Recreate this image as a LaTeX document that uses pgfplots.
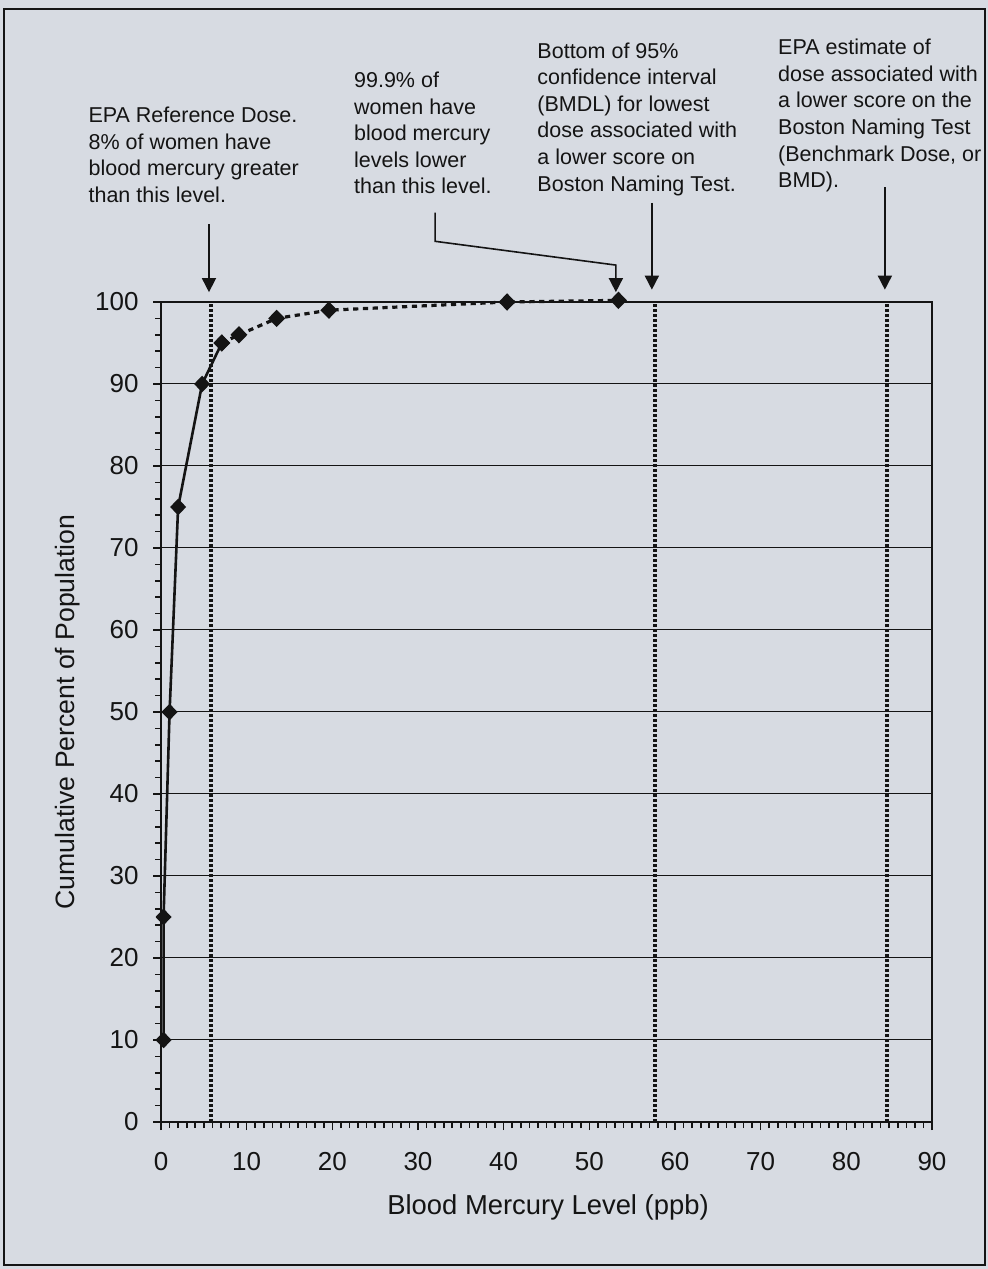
\documentclass[border=0pt]{standalone}
\usepackage{fontspec}
\setmainfont{Liberation Sans}
\usepackage{pgfplots}
\pgfplotsset{compat=1.18}
\usetikzlibrary{arrows.meta}
\definecolor{paper}{RGB}{215,219,226}
\definecolor{ink}{RGB}{20,20,20}

\begin{document}
\begin{tikzpicture}[x=1pt,y=1pt]
\useasboundingbox (0,0) rectangle (494,634.5);
\fill[paper] (0,0) rectangle (494,634.5);
\draw[ink, line width=1pt] (2,2) rectangle (492.5,630);
\begin{axis}[
  at={(80.5pt,73.5pt)}, anchor=south west,
  scale only axis, width=385.5pt, height=410pt,
  xmin=0, xmax=90, ymin=0, ymax=100,
  clip=false,
  axis line style={ink, line width=1pt},
  xtick distance=10, ytick distance=10,
  minor x tick num=9, minor y tick num=4,
  tick align=outside, xtick pos=left, ytick pos=left,
  major tick length=4pt, minor tick length=3pt,
  every tick/.style={ink, line width=0.8pt},
  ymajorgrids, major grid style={ink, line width=0.5pt},
  /pgf/number format/assume math mode=true,
  ticklabel style={font=\fontsize{13}{15}\selectfont, inner sep=0pt, text=ink},
  xticklabel shift=11pt,
  xticklabel style={anchor=north},
  yticklabel style={anchor=east, xshift=-7pt},
  xlabel={Blood Mercury Level (ppb)},
  ylabel={Cumulative Percent of Population},
  every axis x label/.style={at={(axis description cs:0.502,-0.1134)}, anchor=base,
    font=\fontsize{13.7}{16}\selectfont, text=ink},
  every axis y label/.style={at={(axis description cs:-0.1128,0.5)}, anchor=base, rotate=90,
    font=\fontsize{13.3}{16}\selectfont, text=ink},
]
% reference lines
\addplot[ink, line width=2pt, dash pattern=on 1.4pt off 1.1pt] coordinates {(5.8,0) (5.8,100)};
\addplot[ink, line width=2pt, dash pattern=on 1.4pt off 1.1pt] coordinates {(57.7,0) (57.7,100)};
\addplot[ink, line width=2pt, dash pattern=on 1.4pt off 1.1pt] coordinates {(84.8,0) (84.8,100)};
% cumulative distribution
\addplot[ink, line width=1.3pt, mark=diamond*, mark size=3.2pt, mark options={solid, xscale=1.3}]
  coordinates {(0.3,10) (0.3,25) (1.0,50) (2.0,75) (4.8,90) (7.1,95)};
\addplot[ink, line width=1.6pt, dash pattern=on 2.6pt off 2.3pt, mark=diamond*, mark size=3.2pt, mark options={solid, xscale=1.3}]
  coordinates {(7.1,95) (9.1,96) (13.5,98) (19.6,99) (40.4,100) (53.4,100.2)};

% annotations
\begin{scope}[every node/.style={anchor=north west, inner sep=0pt, align=left, text=ink,
    font=\fontsize{10.75}{13.3}\selectfont}]
\node at (axis cs:-8.5,123.8) {EPA Reference Dose.\\8\% of women have\\blood mercury greater\\than this level.};
\node at (axis cs:22.5,128.1) {99.9\% of\\women have\\blood mercury\\levels lower\\than this level.};
\node at (axis cs:43.9,131.7) {Bottom of 95\%\\confidence interval\\(BMDL) for lowest\\dose associated with\\a lower score on\\Boston Naming Test.};
\node at (axis cs:72.0,132.1) {EPA estimate of\\dose associated with\\a lower score on the\\Boston Naming Test\\(Benchmark Dose, or\\BMD).};
\end{scope}
\begin{scope}[ink, line width=0.8pt, -{Triangle[width=7pt,length=7pt]}]
\draw (axis cs:5.6,109.5) -- (axis cs:5.6,101.2);
\draw (axis cs:32.0,110.9) -- (axis cs:32.0,107.4) -- (axis cs:53.1,104.5) -- (axis cs:53.1,101.2);
\draw (axis cs:57.3,112.1) -- (axis cs:57.3,101.5);
\draw (axis cs:84.5,114.0) -- (axis cs:84.5,101.5);
\end{scope}
\end{axis}
\end{tikzpicture}
\end{document}
